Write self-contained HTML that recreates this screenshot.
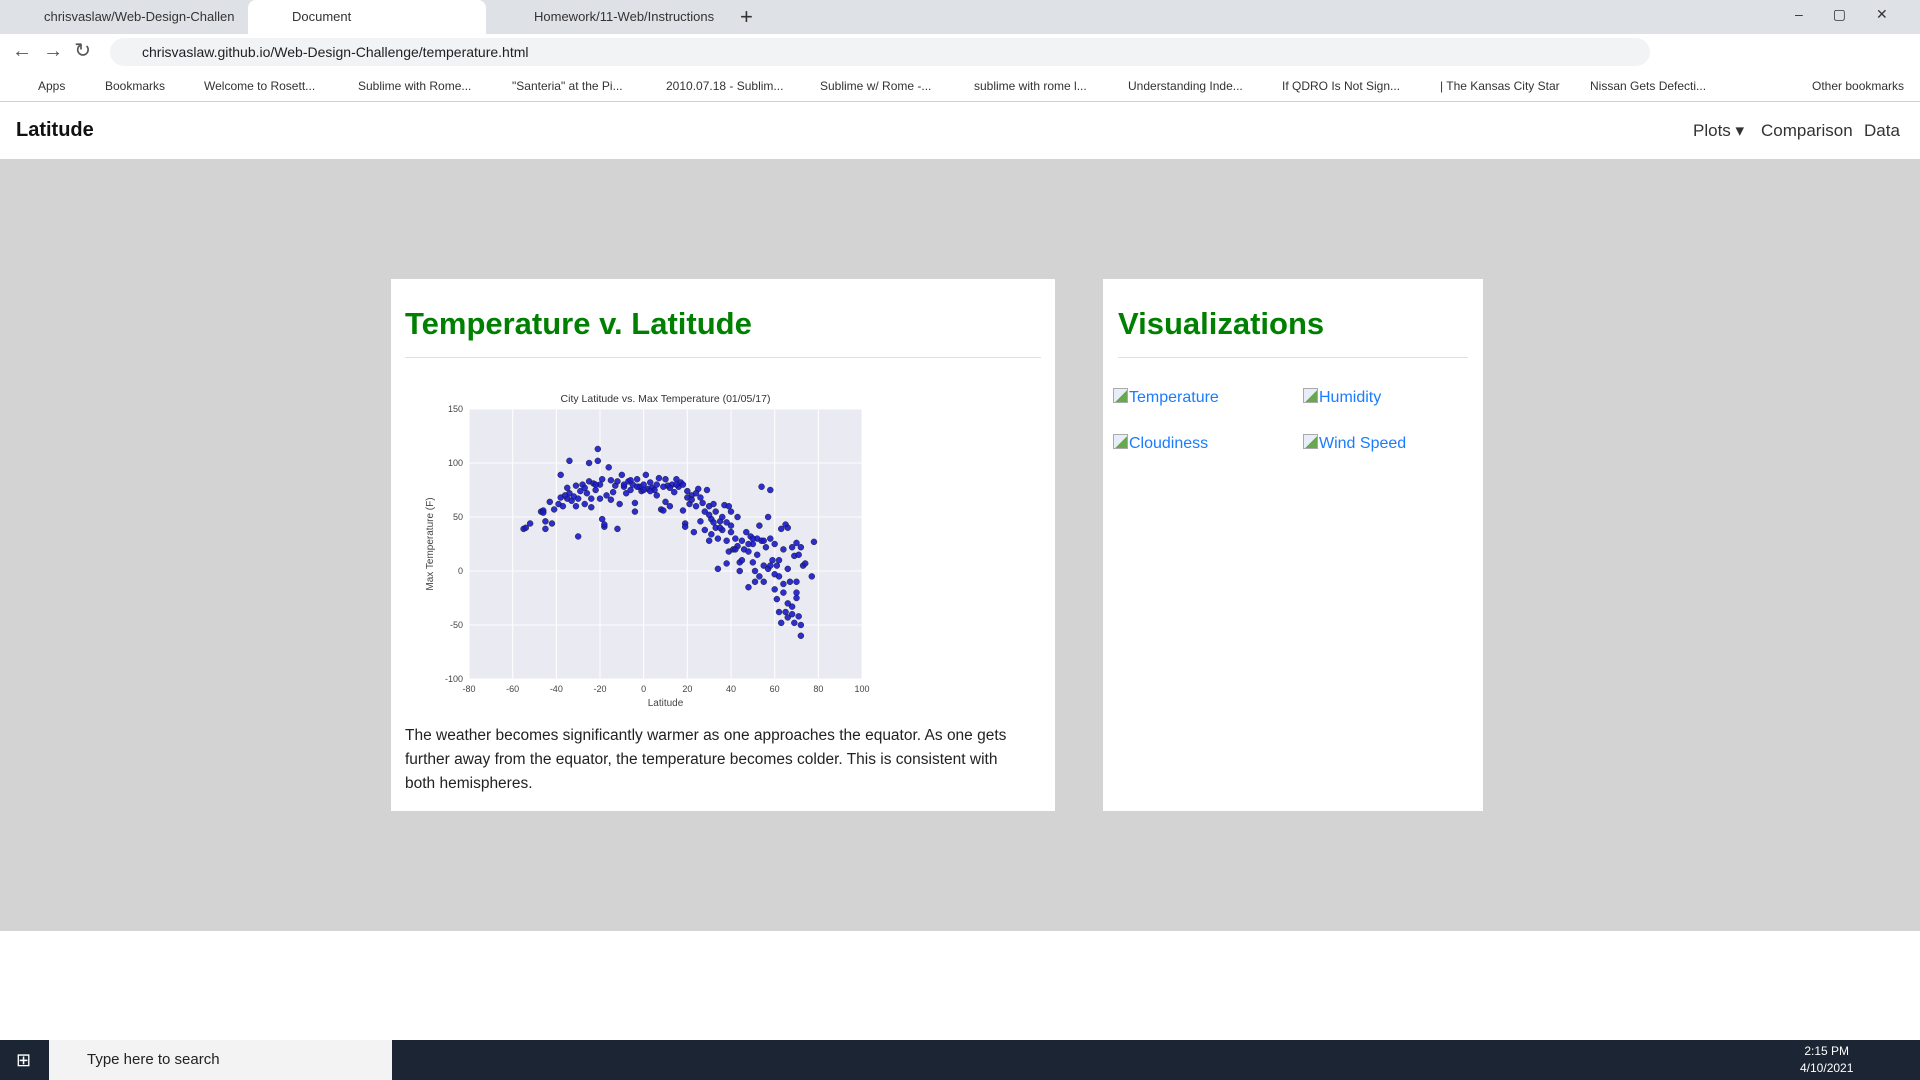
<!DOCTYPE html>
<html><head><meta charset="utf-8"><style>
*{box-sizing:border-box;margin:0;padding:0}
body{width:1920px;height:1080px;overflow:hidden;font-family:"Liberation Sans",sans-serif;background:#fff;position:relative}
.abs{position:absolute}
#tabs{left:0;top:0;width:1920px;height:34px;background:#dee1e6}
.tab{top:0;height:34px;font-size:13px;color:#333;line-height:34px;padding-left:44px}
#addr{left:0;top:34px;width:1920px;height:35px;background:#fff}
#url{left:110px;top:4px;width:1540px;height:28px;background:#f1f3f4;border-radius:14px;font-size:14px;line-height:28px;padding-left:32px;color:#202124}
#bm{left:0;top:69px;width:1920px;height:33px;background:#fff;border-bottom:1px solid #d0d0d0;font-size:12px;color:#333}
#bm span{position:absolute;top:10px}
#nav{left:0;top:103px;width:1920px;height:56px;background:#fff}
#gray{left:0;top:159px;width:1920px;height:772px;background:#d3d3d3}
.card{background:#fff}
h1{font-family:"Liberation Sans",sans-serif;color:#008000;font-size:31px;position:absolute}
.hr{position:absolute;height:1px;background:#e0e0e0}
.lnk{position:absolute;font-size:16px;color:#1a7cff}
.ico{display:inline-block;width:15px;height:15px;border:1px solid #aaa;background:linear-gradient(135deg,#e8eef8 55%,#6aa84f 55%);vertical-align:-1px;margin-right:1px}
#task{left:0;top:1040px;width:1920px;height:40px;background:#1c2533}
</style></head><body>
<div id="tabs" class="abs">
 <div class="abs tab" style="left:0;width:248px">chrisvaslaw/Web-Design-Challen ✕</div>
 <div class="abs tab" style="left:248px;width:238px;background:#fff;border-radius:8px 8px 0 0">Document</div>
 <div class="abs tab" style="left:490px;width:230px">Homework/11-Web/Instructions ✕</div>
 <div class="abs" style="left:740px;top:4px;font-size:22px;color:#333">+</div>
 <div class="abs" style="left:1795px;top:6px;font-size:14px;color:#333;letter-spacing:30px">–▢✕</div>
</div>
<div id="addr" class="abs">
 <div class="abs" style="left:12px;top:4px;font-size:20px;color:#555">←&nbsp;&nbsp;→&nbsp;&nbsp;↻</div>
 <div id="url" class="abs">chrisvaslaw.github.io/Web-Design-Challenge/temperature.html</div>
</div>
<div id="bm" class="abs">
 <span style="left:38px">Apps</span><span style="left:105px">Bookmarks</span><span style="left:204px">Welcome to Rosett...</span><span style="left:358px">Sublime with Rome...</span><span style="left:512px">"Santeria" at the Pi...</span><span style="left:666px">2010.07.18 - Sublim...</span><span style="left:820px">Sublime w/ Rome -...</span><span style="left:974px">sublime with rome l...</span><span style="left:1128px">Understanding Inde...</span><span style="left:1282px">If QDRO Is Not Sign...</span><span style="left:1440px">| The Kansas City Star</span><span style="left:1590px">Nissan Gets Defecti...</span><span style="left:1812px">Other bookmarks</span>
</div>
<div id="nav" class="abs">
 <div class="abs" style="left:16px;top:16px;font-size:20px;font-weight:bold;color:#111">Latitude</div>
 <div class="abs" style="left:1693px;top:18px;font-size:17px;color:#333">Plots ▾</div>
 <div class="abs" style="left:1761px;top:18px;font-size:17px;color:#333">Comparison</div>
 <div class="abs" style="left:1864px;top:18px;font-size:17px;color:#333">Data</div>
</div>
<div id="gray" class="abs"></div>
<div class="abs card" style="left:391px;top:279px;width:664px;height:532px">
 <h1 style="left:14px;top:27px">Temperature v. Latitude</h1>
 <div class="hr" style="left:14px;top:78px;width:636px"></div>
 <svg id="chart" class="abs" style="left:0;top:0" width="664" height="440"></svg>
 <p class="abs" style="left:14px;top:445px;width:620px;font-size:15.5px;line-height:24px;color:#222">The weather becomes significantly warmer as one approaches the equator. As one gets further away from the equator, the temperature becomes colder. This is consistent with both hemispheres.</p>
</div>
<div class="abs card" style="left:1103px;top:279px;width:380px;height:532px">
 <h1 style="left:15px;top:27px">Visualizations</h1>
 <div class="hr" style="left:15px;top:78px;width:350px"></div>
 <a class="lnk" style="left:10px;top:109px"><span class="ico"></span>Temperature</a>
 <a class="lnk" style="left:200px;top:109px"><span class="ico"></span>Humidity</a>
 <a class="lnk" style="left:10px;top:155px"><span class="ico"></span>Cloudiness</a>
 <a class="lnk" style="left:200px;top:155px"><span class="ico"></span>Wind Speed</a>
</div>
<div id="task" class="abs">
 <div class="abs" style="left:16px;top:10px;color:#fff;font-size:18px">⊞</div>
 <div class="abs" style="left:49px;top:0;width:343px;height:40px;background:#f3f3f3;font-size:15px;line-height:40px;padding-left:38px;color:#222">Type here to search</div>
 <div class="abs" style="left:1800px;top:3px;color:#fff;font-size:12px;text-align:center;line-height:17px">2:15 PM<br>4/10/2021</div>
</div>
<script>
const lats=[-55,-54,-52,-47,-46,-46,-45,-45,-43,-42,-41,-39,-38,-38,-37,-35,-35,-34,-34,-33,-32,-31,-31,-30,-29,-28,-27,-26,-25,-25,-24,-24,-23,-22,-21,-21,-20,-20,-19,-19,-18,-18,-17,-16,-15,-14,-13,-12,-12,-11,-10,-9,-8,-7,-6,-5,-4,-4,-3,-2,-1,0,1,2,3,4,5,6,7,8,9,10,10,11,12,13,14,15,16,17,18,18,19,19,20,21,22,23,24,25,26,26,27,28,28,29,30,30,31,31,32,33,33,34,34,35,36,37,38,38,38,39,39,40,40,41,42,43,43,44,44,45,46,47,48,48,49,50,50,51,51,52,52,53,53,54,54,55,55,56,57,57,58,58,59,60,60,61,61,62,62,63,63,64,64,65,65,66,66,66,67,68,68,69,69,70,70,70,71,71,72,72,72,73,74,77,78,-36,-30,-27,-22,-15,-9,-6,-3,0,3,6,9,12,15,20,22,24,30,32,35,36,40,42,45,48,50,55,58,60,62,64,66,68,70];
const temps=[39,40,44,55,56,54,46,39,64,44,57,62,68,89,60,67,77,72,102,65,69,60,79,32,74,80,62,72,100,83,67,59,81,75,113,102,80,67,48,85,41,43,70,96,66,73,79,39,83,62,89,78,72,83,75,80,55,63,85,78,74,80,89,76,82,77,75,70,86,57,56,85,64,79,60,80,73,85,78,82,56,80,44,41,74,62,70,36,60,76,68,46,63,38,55,75,28,60,48,34,62,40,55,2,30,46,38,61,28,7,45,60,18,36,55,20,30,50,23,8,0,28,20,36,-15,18,32,8,25,0,-10,30,15,-5,42,78,28,5,-10,22,2,50,75,30,10,-17,25,-26,5,-38,-5,-48,39,-12,20,43,-38,40,2,-43,-10,-33,22,-48,14,-25,-10,26,-42,15,-50,-60,22,5,7,-5,27,70,67,77,80,84,80,84,78,75,74,80,78,77,80,68,66,72,52,45,40,50,42,20,10,25,30,28,5,-3,10,-20,-30,-40,-20];
const xTicks=[-80,-60,-40,-20,0,20,40,60,80,100];
const yTicks=[-100,-50,0,50,100,150];
const NS='http://www.w3.org/2000/svg';
const svg=document.getElementById('chart');
const L=78,R=471,T=130,B=400;
const xs=v=>L+(v+80)/180*(R-L);
const ys=v=>B-(v+100)/250*(B-T);
function mk(t,a){const e=document.createElementNS(NS,t);for(const k in a)e.setAttribute(k,a[k]);svg.appendChild(e);return e;}
const bg=mk('rect',{x:L,y:T,width:R-L,height:B-T,fill:'#eaeaf2'});


xTicks.forEach(v=>{
 const g=mk('line',{x1:xs(v),x2:xs(v),y1:T,y2:B,stroke:'#fff','stroke-width':1});
 
 
 const t=mk('text',{x:xs(v),y:B+13,'font-size':9,fill:'#444','text-anchor':'middle','font-family':'Liberation Sans'});
 t.textContent=v;
 
 
});
yTicks.forEach(v=>{
 const g=mk('line',{x1:L,x2:R,y1:ys(v),y2:ys(v),stroke:'#fff','stroke-width':1});
 
 
 const t=mk('text',{x:L-6,y:ys(v)+3,'font-size':9,fill:'#444','text-anchor':'end','font-family':'Liberation Sans'});
 t.textContent=v;
 
 
});
lats.forEach((la,i)=>{
 const c=mk('circle',{cx:xs(la),cy:ys(temps[i]),r:3,fill:'#1a1ac8',stroke:'#111','stroke-width':0.4,'fill-opacity':0.9});
 
 
});
const ti=mk('text',{x:(L+R)/2,y:123,'font-size':10.5,fill:'#333','text-anchor':'middle','font-family':'Liberation Sans'});
ti.textContent='City Latitude vs. Max Temperature (01/05/17)';


const xl=mk('text',{x:(L+R)/2,y:427,'font-size':10,fill:'#444','text-anchor':'middle','font-family':'Liberation Sans'});
xl.textContent='Latitude';


const yl=mk('text',{x:0,y:0,'font-size':10,fill:'#444','text-anchor':'middle','font-family':'Liberation Sans',transform:'translate(42,'+((T+B)/2)+') rotate(-90)'});
yl.textContent='Max Temperature (F)';


</script>
</body></html>
